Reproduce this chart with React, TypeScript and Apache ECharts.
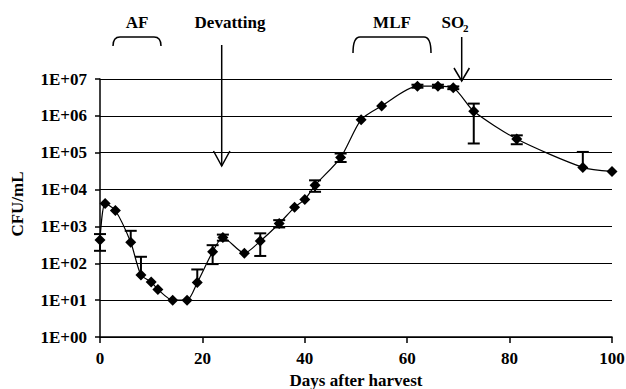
import React, { useEffect, useRef } from "react";
import * as echarts from "echarts";

const days = [0, 1, 3, 6, 8, 10, 11.3, 14.2, 17, 19, 22, 24, 28.2, 31.3, 35, 38, 40, 42, 47, 51, 55, 62, 66, 69, 73, 81.4, 94.3, 100];
const cfu = [430, 4200, 2700, 370, 48, 31, 19.5, 10, 10, 30, 205, 500, 188, 400, 1200, 3300, 5400, 13000, 74000, 790000, 1.85e6, 6.4e6, 6.4e6, 5.8e6, 1.33e6, 2.35e5, 40000, 31000];
const errLow: (number | null)[] = [218, null, null, null, null, null, null, null, null, null, 95, 410, null, 158, 940, null, null, 8700, 56000, null, null, 5.8e6, 5.8e6, 5.3e6, 1.78e5, 1.7e5, null, null];
const errHigh: (number | null)[] = [620, null, null, 760, 150, null, null, null, null, 68, 310, 600, null, 650, 1480, null, null, 17800, 95000, null, null, 7.0e6, 7.0e6, 6.3e6, 2.15e6, 2.96e5, 1.05e5, null];
const xTicks = [0, 20, 40, 60, 80, 100];

const FONT = "'Liberation Serif', 'Times New Roman', serif";

export default function App() {
  const ref = useRef<HTMLDivElement>(null);
  useEffect(() => {
    document.body.style.margin = "0";
    const chart = echarts.init(ref.current!, null, { renderer: "svg" });
    const lineData = days.map((d, i) => [d, cfu[i]]);
    const errData: number[][] = [];
    days.forEach((d, i) => {
      if (errLow[i] != null || errHigh[i] != null) {
        errData.push([d, errLow[i] ?? cfu[i], errHigh[i] ?? cfu[i], cfu[i]]);
      }
    });
    const txt = (text: string, x: number, y: number, extra: any = {}) => ({
      type: "text",
      x,
      y,
      style: {
        text,
        fill: "#000",
        font: `bold 17px ${FONT}`,
        align: "center",
        verticalAlign: "middle",
        ...extra,
      },
    });
    const ln = (x1: number, y1: number, x2: number, y2: number) => ({
      type: "line",
      shape: { x1, y1, x2, y2 },
      style: { stroke: "#000", lineWidth: 1.5 },
    });
    const bz = (x1: number, y1: number, cx: number, cy: number, x2: number, y2: number) => ({
      type: "bezierCurve",
      shape: { x1, y1, x2, y2, cpx1: cx, cpy1: cy },
      style: { stroke: "#000", lineWidth: 1.5, fill: "none" },
    });
    const bracket = (l: number, r: number, top: number, bottom: number) => [
      bz(l, bottom, l, top, l + 7, top),
      ln(l + 7, top, r - 7, top),
      bz(r - 7, top, r, top, r, bottom),
    ];
    chart.setOption({
      animation: false,
      grid: { left: 100, right: 14, top: 79, bottom: 52, containLabel: false, outerBoundsMode: "none" },
      xAxis: {
        type: "value",
        min: xTicks[0],
        max: xTicks[xTicks.length - 1],
        interval: 20,
        name: "Days after harvest",
        nameLocation: "middle",
        nameGap: 33,
        nameTextStyle: { color: "#000", fontFamily: FONT, fontWeight: "bold", fontSize: 17 },
        axisLine: { lineStyle: { color: "#000", width: 1.5 } },
        axisTick: { show: true, length: 6, lineStyle: { color: "#000", width: 1.5 } },
        axisLabel: { color: "#000", fontFamily: FONT, fontWeight: "bold", fontSize: 17, margin: 13 },
        splitLine: { show: false },
      },
      yAxis: {
        type: "log",
        logBase: 10,
        min: 1,
        max: 1e7,
        interval: 1,
        axisLine: { show: true, lineStyle: { color: "#000", width: 1.5 } },
        axisTick: { show: true, length: 5, lineStyle: { color: "#000", width: 1.5 } },
        axisLabel: {
          color: "#000",
          fontFamily: FONT,
          fontWeight: "bold",
          fontSize: 17,
          margin: 13,
          formatter: (v: number) => {
            const e = Math.round(Math.log10(v));
            return "1E+" + (e < 10 ? "0" + e : "" + e);
          },
        },
        splitLine: { show: true, lineStyle: { color: "#000", width: 1.2 } },
        minorTick: { show: false },
      },
      series: [
        {
          type: "line",
          data: lineData,
          smooth: 0.25,
          symbol: "diamond",
          symbolSize: 11,
          itemStyle: { color: "#000" },
          lineStyle: { color: "#000", width: 1.2 },
          z: 3,
        },
        {
          type: "custom",
          data: errData,
          z: 4,
          renderItem: (params: any, api: any) => {
            const x = api.value(0);
            const lo = api.value(1);
            const hi = api.value(2);
            const v = api.value(3);
            const pLo = api.coord([x, lo]);
            const pHi = api.coord([x, hi]);
            const hw = 6;
            const st = { stroke: "#000", lineWidth: 2 };
            const children: any[] = [
              { type: "line", shape: { x1: pLo[0], y1: pLo[1], x2: pHi[0], y2: pHi[1] }, style: st },
            ];
            if (hi > v) children.push({ type: "line", shape: { x1: pHi[0] - hw, y1: pHi[1], x2: pHi[0] + hw, y2: pHi[1] }, style: st });
            if (lo < v) children.push({ type: "line", shape: { x1: pLo[0] - hw, y1: pLo[1], x2: pLo[0] + hw, y2: pLo[1] }, style: st });
            return { type: "group", children };
          },
        },
      ],
      graphic: [
        txt("AF", 137, 22),
        txt("Devatting", 230, 22),
        txt("MLF", 392, 22),
        txt("SO", 441.5, 22, { align: "left" }),
        txt("2", 463, 27.5, { align: "left", font: `bold 11px ${FONT}` }),
        txt("CFU/mL", 0, 0),
        ...bracket(113, 161, 37, 46),
        ...bracket(353, 431, 37, 53),
        ln(221.7, 45, 221.7, 166),
        { type: "polyline", shape: { points: [[213.5, 151], [221.7, 166], [229.9, 151]] }, style: { stroke: "#000", lineWidth: 1.5, fill: "none" } },
        ln(461.7, 37, 461.7, 81),
        { type: "polyline", shape: { points: [[454, 68], [461.7, 81], [469.4, 68]] }, style: { stroke: "#000", lineWidth: 1.5, fill: "none" } },
      ].map((g: any) =>
        g.style && g.style.text === "CFU/mL" ? { ...g, x: 17.5, y: 204, rotation: Math.PI / 2 } : g
      ),
    });
    return () => chart.dispose();
  }, []);
  return <div ref={ref} style={{ position: "fixed", left: 0, top: 0, width: 626, height: 389, background: "#fff" }} />;
}
